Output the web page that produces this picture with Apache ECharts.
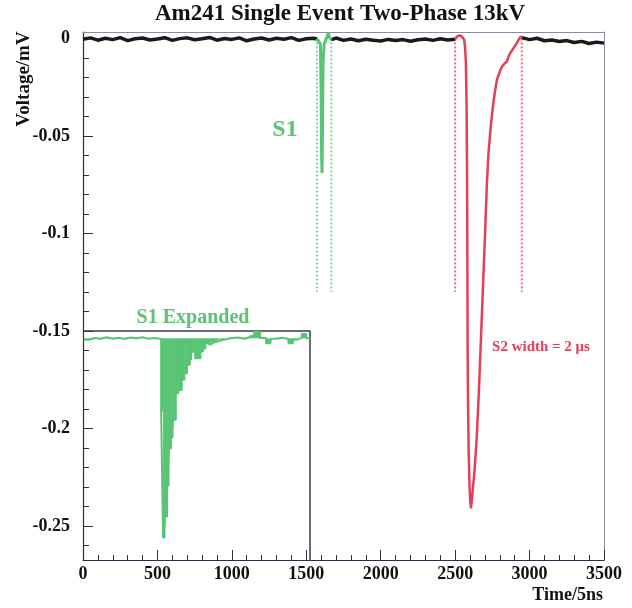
<!DOCTYPE html>
<html>
<head>
<meta charset="utf-8">
<script src="https://cdn.jsdelivr.net/npm/echarts@6/dist/echarts.min.js"></script>
<style>
  html, body { margin: 0; padding: 0; background: #fff; }
  #chart { width: 632px; height: 608px; }
</style>
</head>
<body>
<div id="chart"></div>
<script>
// axis ticks
var timeTicks = [0, 500, 1000, 1500, 2000, 2500, 3000, 3500]
var voltTicks = [0, -0.05, -0.1, -0.15, -0.2, -0.25]
var voltMinor = [-0.01, -0.02, -0.03, -0.04, -0.06, -0.07, -0.08, -0.09, -0.11, -0.12, -0.13, -0.14,
  -0.16, -0.17, -0.18, -0.19, -0.21, -0.22, -0.23, -0.24, -0.26]

// baseline before S1 (black)
var blackATime = [0, 50, 100, 150, 200, 250, 300, 350, 400, 450, 500, 550, 600, 650, 700, 750, 800, 850,
  900, 950, 1000, 1050, 1100, 1150, 1200, 1250, 1300, 1350, 1400, 1450, 1500, 1550, 1572]
var blackAVolt = [-0.0004, 0.0003, -0.0009, 0.0001, -0.0006, 0.0004, -0.0011, -0.0002, 0.0002, -0.0008,
  -0.0003, 0.0004, -0.0010, -0.0001, 0.0003, -0.0007, -0.0002, 0.0005, -0.0009, 0.0000, -0.0005, 0.0003,
  -0.0012, -0.0003, 0.0002, -0.0008, 0.0001, -0.0004, 0.0004, -0.0010, -0.0002, 0.0001, -0.0003]

// baseline between S1 and S2 (black)
var blackBTime = [1668, 1700, 1750, 1800, 1850, 1900, 1950, 2000, 2050, 2100, 2150, 2200, 2250, 2300,
  2350, 2400, 2450, 2500]
var blackBVolt = [-0.0006, 0.0002, -0.0010, -0.0003, -0.0012, -0.0004, -0.0009, -0.0013, -0.0005,
  -0.0011, -0.0006, -0.0014, -0.0007, -0.0003, -0.0010, -0.0002, -0.0008, -0.0004]

// baseline after S2 (black)
var blackCTime = [2948, 3000, 3050, 3100, 3150, 3200, 3250, 3300, 3350, 3400, 3450, 3500]
var blackCVolt = [0.0004, -0.0006, 0.0001, -0.0012, -0.0008, -0.0016, -0.0011, -0.0021, -0.0015,
  -0.0026, -0.0019, -0.0024]

// S1 pulse (green)
var s1Time = [1572, 1585, 1595, 1600, 1603, 1606, 1609, 1613, 1620, 1630, 1640, 1648, 1655, 1668]
var s1Volt = [0, -0.0005, -0.003, -0.03, -0.06, -0.069, -0.045, -0.012, -0.003, -0.001, 0.001, 0.0028,
  0.0006, -0.0005]

// S2 pulse (red)
var s2Time = [2500, 2515, 2530, 2545, 2560, 2566, 2572, 2577, 2580, 2582, 2584, 2587, 2591, 2596, 2601,
  2606, 2612, 2620, 2630, 2645, 2660, 2680, 2702, 2713, 2724, 2735, 2746, 2760, 2780, 2800, 2814, 2830,
  2847, 2860, 2870, 2892, 2910, 2925, 2941, 2948]
var s2Volt = [-0.0005, 0.0012, 0.0015, 0.0010, -0.0005, -0.004, -0.012, -0.035, -0.07, -0.11, -0.16,
  -0.19, -0.212, -0.228, -0.237, -0.241, -0.237, -0.230, -0.222, -0.205, -0.180, -0.141, -0.098, -0.075,
  -0.059, -0.049, -0.040, -0.031, -0.0213, -0.017, -0.0145, -0.013, -0.012, -0.009, -0.0076, -0.005,
  -0.003, -0.0008, 0.001, 0.0005]

// S1 / S2 window marks
var s1Window = [1572, 1668]
var s2Window = [2500, 2948]
var windowVolt = [0, -0.13]

// S1 expanded inset, drawn on the main axes
var insetBox = [[0, -0.15], [1525, -0.15], [1525, -0.2675]]
var insetBase = -0.1538
var insetTime = [5, 40, 80, 120, 160, 200, 240, 280, 320, 360, 400, 440, 480, 525, 538, 551, 565, 578,
  592, 605, 623, 641, 663, 681, 699, 717, 730, 753, 789, 806, 822, 838, 856, 878, 900, 945, 990, 1040,
  1090, 1120, 1150, 1190, 1230, 1260, 1300, 1340, 1380, 1410, 1440, 1470, 1500, 1520]
var insetVolt = [-0.1545, -0.1536, -0.1541, -0.1533, -0.1540, -0.1535, -0.1542, -0.1534, -0.1539,
  -0.1532, -0.1540, -0.1536, -0.1541, -0.1914, -0.2563, -0.2452, -0.2298, -0.2102, -0.2050, -0.1956,
  -0.1820, -0.1803, -0.1751, -0.1717, -0.1674, -0.1649, -0.1606, -0.1640, -0.1606, -0.1590, -0.1563,
  -0.1570, -0.1560, -0.1555, -0.1545, -0.1538, -0.1534, -0.1540, -0.1531, -0.1522, -0.1504, -0.1536,
  -0.1563, -0.1540, -0.1535, -0.1541, -0.1563, -0.1545, -0.1536, -0.1516, -0.1538, -0.1534]

function zip(xs, ys) {
  return xs.map(function (x, i) { return [x, ys[i]] })
}

function windowLine(t) {
  return [[t, windowVolt[0]], [t, windowVolt[1]]]
}

// one [start, end, value] entry per histogram bin
var insetBins = []
for (var i = 0; i < insetTime.length - 1; i++) {
  insetBins.push([insetTime[i], insetTime[i + 1], insetVolt[i]])
}

var serif = '"Liberation Serif", "DejaVu Serif", serif'
var green = 'rgb(88, 196, 116)'
var red = 'rgb(226, 64, 88)'
var axisColor = '#2e2e40'
var frameColor = '#8c8c9c'
var yMin = -0.2675
var yMax = 0.0033

var myChart = echarts.init(document.getElementById('chart'))

var dotted = function (t, color) {
  return {
    type: 'line',
    data: windowLine(t),
    symbol: 'none',
    silent: true,
    lineStyle: {color: color, width: 2, type: [2, 2]},
    z: 1
  }
}

var trace = function (data, color, width) {
  return {
    type: 'line',
    data: data,
    symbol: 'none',
    silent: true,
    lineStyle: {color: color, width: width},
    z: 3
  }
}

// frame-only axes for the top and right border
var frameAxis = {
  axisLine: {show: true, onZero: false, lineStyle: {color: frameColor, width: 1}},
  axisTick: {show: false},
  axisLabel: {show: false},
  splitLine: {show: false}
}

var option = {
  backgroundColor: '#fff',
  animation: false,
  grid: {
    left: 83,
    right: 28,
    top: 32,
    bottom: 48
  },
  xAxis: [{
    type: 'value',
    min: timeTicks[0],
    max: timeTicks[timeTicks.length - 1],
    interval: 500,
    axisLine: {show: true, onZero: false, lineStyle: {color: axisColor, width: 1.2}},
    axisTick: {show: true, inside: true, length: 10, lineStyle: {color: axisColor, width: 1}},
    minorTick: {show: true, splitNumber: 5, length: 5, lineStyle: {color: axisColor, width: 1}},
    splitLine: {show: false},
    minorSplitLine: {show: false},
    axisLabel: {
      color: '#111', fontFamily: serif, fontWeight: 'bold', fontSize: 18, margin: 5,
      showMinLabel: true, showMaxLabel: true,
      formatter: function (v) { return String(v) }
    }
  }, Object.assign({type: 'value', position: 'top', min: 0, max: 3500}, frameAxis)],
  yAxis: [{
    type: 'value',
    min: yMin,
    max: yMax,
    axisLine: {show: true, onZero: false, lineStyle: {color: axisColor, width: 1.2}},
    axisTick: {show: true, inside: true, length: 10, customValues: voltTicks, lineStyle: {color: axisColor, width: 1}},
    splitLine: {show: false},
    axisLabel: {
      customValues: voltTicks,
      color: '#111', fontFamily: serif, fontWeight: 'bold', fontSize: 18, margin: 13,
      formatter: function (v) { return String(Math.round(v * 100) / 100) }
    }
  }, {
    type: 'value',
    min: yMin,
    max: yMax,
    position: 'left',
    axisLine: {show: false},
    axisTick: {show: true, inside: true, length: 6, customValues: voltMinor, lineStyle: {color: axisColor, width: 1}},
    splitLine: {show: false},
    axisLabel: {show: false}
  }, Object.assign({type: 'value', position: 'right', min: yMin, max: yMax}, frameAxis)],
  graphic: [{
    type: 'text',
    style: {
      text: 'Am241 Single Event Two-Phase 13kV', x: 340, y: 14, fill: '#111',
      font: 'bold 23px ' + serif, textAlign: 'center', textVerticalAlign: 'middle'
    }
  }, {
    type: 'text',
    rotation: Math.PI / 2,
    x: 24,
    y: 79,
    style: {
      text: 'Voltage/mV', x: 0, y: 0, fill: '#111',
      font: 'bold 19px ' + serif, textAlign: 'center', textVerticalAlign: 'middle'
    }
  }, {
    type: 'text',
    style: {
      text: 'Time/5ns', x: 603, y: 595, fill: '#111',
      font: 'bold 18px ' + serif, textAlign: 'right', textVerticalAlign: 'middle'
    }
  }, {
    type: 'text',
    style: {
      text: 'S1', x: 285, y: 130, fill: green,
      font: 'bold 24px ' + serif, textAlign: 'center', textVerticalAlign: 'middle'
    }
  }, {
    type: 'text',
    style: {
      text: 'S1 Expanded', x: 193, y: 318, fill: green,
      font: 'bold 20px ' + serif, textAlign: 'center', textVerticalAlign: 'middle'
    }
  }, {
    type: 'text',
    style: {
      text: 'S2 width = 2 μs', x: 541, y: 347, fill: red,
      font: 'bold 15px ' + serif, textAlign: 'center', textVerticalAlign: 'middle'
    }
  }],
  series: [
    dotted(s1Window[0], 'rgb(130, 214, 150)'),
    dotted(s1Window[1], 'rgb(130, 214, 150)'),
    dotted(s2Window[0], 'rgb(236, 110, 128)'),
    dotted(s2Window[1], 'rgb(236, 110, 128)'),
    trace(zip(blackATime, blackAVolt), '#1a1a1a', 3.5),
    trace(zip(blackBTime, blackBVolt), '#1a1a1a', 3.5),
    trace(zip(blackCTime, blackCVolt), '#1a1a1a', 3.5),
    trace(zip(s1Time, s1Volt), green, 3),
    trace(zip(s2Time, s2Volt), red, 2.5),
    {
      type: 'line',
      data: insetBox,
      symbol: 'none',
      silent: true,
      lineStyle: {color: '#3a3a4a', width: 1.5},
      z: 2
    },
    {
      // filled bins of the expanded S1 pulse
      type: 'custom',
      data: insetBins,
      silent: true,
      z: 3,
      renderItem: function (params, api) {
        var p0 = api.coord([api.value(0), insetBase])
        var p1 = api.coord([api.value(1), api.value(2)])
        return {
          type: 'rect',
          shape: {
            x: p0[0],
            y: Math.min(p0[1], p1[1]),
            width: p1[0] - p0[0] + 0.5,
            height: Math.abs(p1[1] - p0[1])
          },
          style: {fill: green}
        }
      }
    },
    {
      type: 'line',
      data: zip(insetTime, insetVolt),
      step: 'end',
      symbol: 'none',
      silent: true,
      lineStyle: {color: green, width: 2},
      z: 4
    }
  ]
}

myChart.setOption(option)
</script>
</body>
</html>
